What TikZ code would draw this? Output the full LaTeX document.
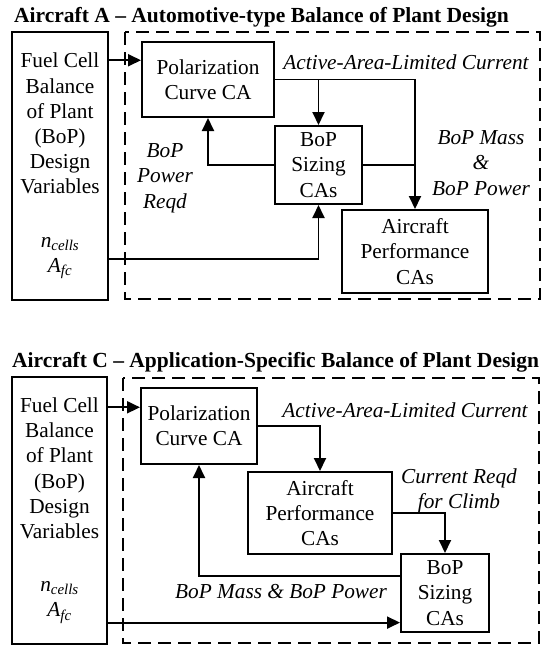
\documentclass[tikz,border=0pt]{standalone}
\usepackage{fontspec}
\setmainfont{Liberation Serif}
\usetikzlibrary{calc, arrows.meta}
\newcommand{\ncells}{\textit{n}\textsubscript{\textit{cells}}}
\newcommand{\afc}{\textit{A}\textsubscript{\textit{fc}}}

\begin{document}
\begin{tikzpicture}[
      x=1pt, y=-1pt,
      font=\fontsize{21.3}{25.2}\selectfont,
      >={Triangle[length=13pt,width=12pt]},
      block/.style={draw, line width=2pt, align=center, inner sep=0pt},
      group/.style={draw, line width=1.8pt, dash pattern=on 13pt off 7pt},
      heading/.style={font=\fontsize{21.5}{25}\selectfont\bfseries,
                      anchor=base west, inner sep=0pt},
      elbl/.style={font=\fontsize{21.3}{25.4}\selectfont\itshape,
                   align=center, inner sep=0pt},
      flow/.style={->, line width=1.9pt},
      link/.style={line width=1.9pt}
  ]
    \useasboundingbox (0,0) rectangle (541,648);

    % Aircraft A
    \node[heading] (headA) at (14,22) {Aircraft A -- Automotive-type Balance of Plant Design};
    \draw[group] (125,32) rectangle (540,299);
    \node[block, minimum width=96, minimum height=268] (fcvA) at (60,166)
      {Fuel Cell\\Balance\\of Plant\\(BoP)\\Design\\Variables\\[28pt]\ncells\\\afc};
    \node[block, minimum width=132, minimum height=75] (polA) at (208,79.5)
      {Polarization\\Curve CA};
    \node[block, minimum width=87, minimum height=78] (sizA) at (318.5,165)
      {BoP\\Sizing\\CAs};
    \node[block, minimum width=146, minimum height=83] (apA) at (415,251.5)
      {Aircraft\\Performance\\CAs};
    \node[elbl, anchor=base] (curA) at (406,69) {Active-Area-Limited Current};
    \node[elbl] (massA) at (481,163) {BoP Mass\\\&\\BoP Power};
    \node[elbl] (reqA) at (165,178) {BoP\\Power\\Reqd};
    \coordinate (inA) at ($(polA.north west)!0.25!(polA.south west)$);
    \coordinate (feedA) at ($(fcvA.north east)!0.843!(fcvA.south east)$);
    \draw[flow] (fcvA.east |- inA) -- (inA);
    \draw[flow] (feedA) -| (sizA.south);
    \draw[flow] (polA.east) -| (apA.north);
    \draw[flow] (polA.east -| sizA.north) -- (sizA.north);
    \draw[link] (sizA.east) -- (sizA.east -| apA.north);
    \draw[flow] (sizA.west) -| (polA.south);

    % Aircraft C
    \node[heading] (headC) at (12,367) {Aircraft C -- Application-Specific Balance of Plant Design};
    \draw[group] (123,378) rectangle (539,643);
    \node[block, minimum width=95, minimum height=267] (fcvC) at (59.5,510.5)
      {Fuel Cell\\Balance\\of Plant\\(BoP)\\Design\\Variables\\[28pt]\ncells\\\afc};
    \node[block, minimum width=116, minimum height=76] (polC) at (199,426)
      {Polarization\\Curve CA};
    \node[block, minimum width=144, minimum height=82] (apC) at (320,513)
      {Aircraft\\Performance\\CAs};
    \node[block, minimum width=88, minimum height=78] (sizC) at (445,593)
      {BoP\\Sizing\\CAs};
    \node[elbl, anchor=base] (curC) at (405,417) {Active-Area-Limited Current};
    \node[elbl] (climbC) at (459,491) {Current Reqd\\for Climb};
    \node[elbl, anchor=base] (massC) at (281,598) {BoP Mass \& BoP Power};
    \coordinate (inC) at ($(polC.north west)!0.26!(polC.south west)$);
    \coordinate (feedC) at ($(sizC.north west)!0.87!(sizC.south west)$);
    \coordinate (backC) at ($(sizC.north west)!0.29!(sizC.south west)$);
    \draw[flow] (fcvC.east |- inC) -- (inC);
    \draw[flow] (fcvC.east |- feedC) -- (feedC);
    \draw[flow] (polC.east) -| (apC.north);
    \draw[flow] (apC.east) -| (sizC.north);
    \draw[flow] (backC) -| (polC.south);
  \end{tikzpicture}
\end{document}
